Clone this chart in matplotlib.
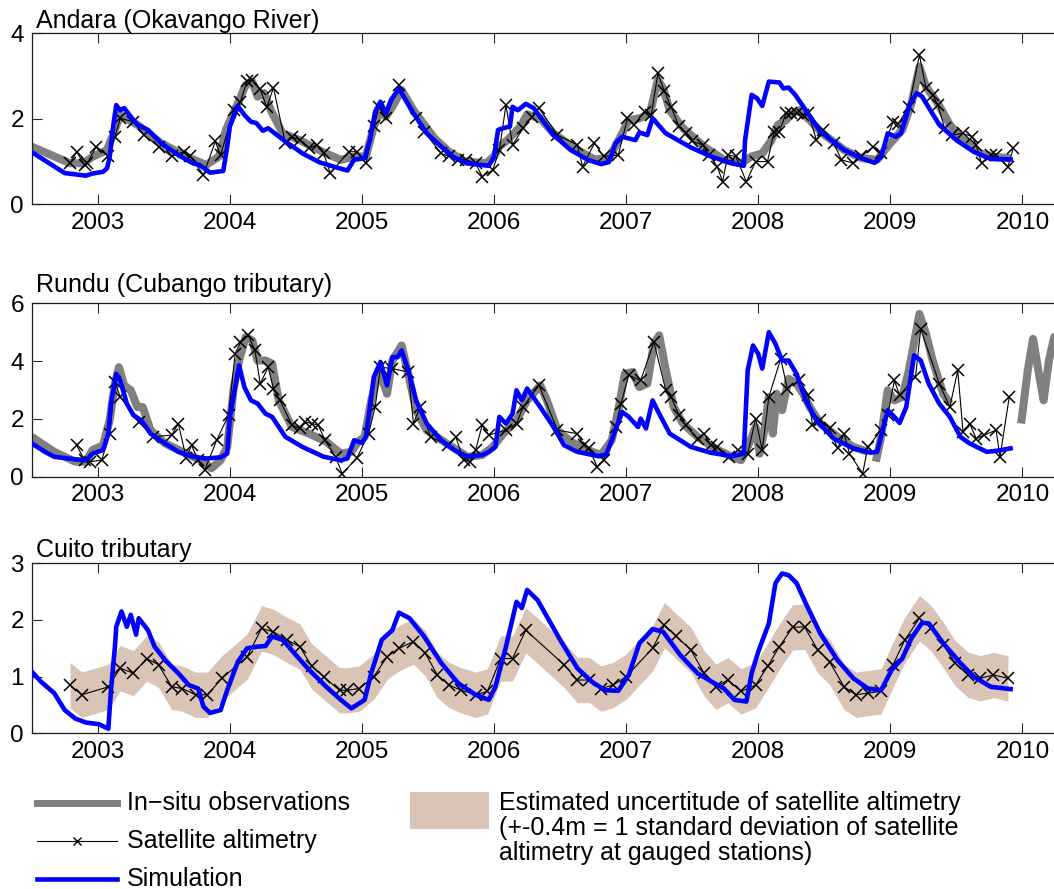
import numpy as np
import matplotlib
matplotlib.use("Agg")
import matplotlib.pyplot as plt
from matplotlib.lines import Line2D
from matplotlib.patches import Rectangle

plt.rcParams['font.family'] = ['Liberation Sans', 'DejaVu Sans']

nan = np.nan

# ---------------- data (decimal years, water level anomalies in m) ----------------
years = [2003, 2004, 2005, 2006, 2007, 2008, 2009, 2010]
titles = ["Andara (Okavango River)", "Rundu (Cubango tributary)", "Cuito tributary"]
yticks = [[0, 2, 4], [0, 2, 4, 6], [0, 1, 2, 3]]
ylims = [(0, 4), (0, 6), (0, 3)]
UNCERTAINTY = 0.4  # +-0.4 m (1 std of satellite altimetry at gauged stations)

# --- Andara ---
andara_insitu_t = [2002.50, 2002.79, 2002.89, 2002.96, 2003.07, 2003.12, 2003.17, 2003.30, 2003.48, 2003.67,
                   2003.82, 2003.92, 2003.97, 2004.06, 2004.12, 2004.17, 2004.21, 2004.26, 2004.31, 2004.40,
                   2004.53, 2004.70, 2004.84, 2004.95, 2005.03, 2005.09, 2005.14, 2005.18, 2005.23, 2005.30,
                   2005.39, 2005.55, 2005.66, 2005.78, 2005.94, 2006.00, 2006.04, 2006.10, 2006.20, 2006.25,
                   2006.35, 2006.45, 2006.61, 2006.76, 2006.87, 2006.97, 2007.02, 2007.10, 2007.18, 2007.24,
                   2007.28, 2007.33, 2007.43, 2007.59, 2007.74, 2007.87, 2007.95, 2008.03, 2008.10, 2008.15,
                   2008.21, 2008.26, 2008.31, 2008.39, 2008.47, 2008.65, 2008.78, 2008.90, 2009.00, 2009.09,
                   2009.16, 2009.22, 2009.27, 2009.36, 2009.45, 2009.55, 2009.68, 2009.81, 2009.91]
andara_insitu_v = [1.35, 0.96, 0.96, 1.11, 1.27, 1.66, 2.09, 1.86, 1.43, 1.12,
                   0.92, 1.12, 1.74, 2.36, 2.79, 2.87, 2.52, 2.60, 2.20, 1.66,
                   1.50, 1.23, 1.04, 1.12, 1.12, 1.82, 2.20, 2.05, 2.28, 2.67,
                   2.20, 1.54, 1.23, 1.00, 0.96, 1.12, 1.35, 1.50, 1.82, 2.10,
                   2.01, 1.66, 1.31, 1.05, 1.08, 1.66, 1.97, 2.01, 2.13, 2.91,
                   2.71, 2.20, 1.78, 1.35, 1.04, 0.96, 1.12, 1.19, 1.50, 1.86,
                   1.97, 2.13, 2.20, 1.97, 1.70, 1.27, 1.08, 1.04, 1.43, 1.74,
                   2.36, 3.22, 2.75, 2.36, 1.86, 1.50, 1.19, 1.10, 1.08]

andara_sat_t = [2002.79, 2002.84, 2002.90, 2002.92, 2002.99, 2003.08, 2003.13, 2003.17, 2003.27, 2003.35,
                2003.46, 2003.56, 2003.65, 2003.70, 2003.80, 2003.89, 2003.93, 2004.03, 2004.08, 2004.13,
                2004.17, 2004.23, 2004.28, 2004.33, 2004.42, 2004.47, 2004.53, 2004.60, 2004.66, 2004.71,
                2004.76, 2004.90, 2004.96, 2005.03, 2005.09, 2005.13, 2005.18, 2005.28, 2005.41, 2005.47,
                2005.60, 2005.66, 2005.73, 2005.79, 2005.86, 2005.91, 2005.99, 2006.04, 2006.09, 2006.14,
                2006.22, 2006.29, 2006.34, 2006.48, 2006.63, 2006.67, 2006.76, 2006.83, 2006.94, 2007.01,
                2007.06, 2007.14, 2007.19, 2007.24, 2007.29, 2007.34, 2007.40, 2007.45, 2007.50, 2007.58,
                2007.63, 2007.69, 2007.73, 2007.77, 2007.83, 2007.91, 2007.98, 2008.07, 2008.12, 2008.16,
                2008.21, 2008.25, 2008.29, 2008.34, 2008.38, 2008.44, 2008.49, 2008.57, 2008.63, 2008.72,
                2008.78, 2008.87, 2008.93, 2009.02, 2009.06, 2009.14, 2009.22, 2009.27, 2009.32, 2009.36,
                2009.41, 2009.47, 2009.55, 2009.62, 2009.65, 2009.69, 2009.76, 2009.80, 2009.89, 2009.93]
andara_sat_v = [0.96, 1.23, 0.92, 0.96, 1.35, 1.12, 1.58, 2.01, 1.93, 1.62,
                1.35, 1.12, 1.23, 1.12, 0.69, 1.47, 1.15, 2.21, 2.40, 2.88,
                2.91, 2.69, 2.27, 2.73, 1.43, 1.58, 1.50, 1.31, 1.39, 1.19,
                0.73, 1.23, 1.23, 0.96, 1.82, 2.28, 2.01, 2.79, 2.01, 1.70,
                1.19, 1.12, 1.04, 1.04, 0.96, 0.65, 0.80, 1.27, 2.32, 1.39,
                1.78, 2.05, 2.25, 1.62, 1.39, 0.88, 1.43, 1.12, 1.15, 2.01,
                1.86, 2.17, 2.09, 3.06, 2.64, 2.28, 1.82, 1.66, 1.47, 1.39,
                1.15, 0.88, 0.53, 1.15, 1.12, 0.53, 1.00, 1.00, 1.70, 1.70,
                2.13, 2.13, 2.13, 2.09, 2.13, 1.50, 1.74, 1.43, 1.04, 0.96,
                1.12, 1.35, 1.19, 1.93, 1.89, 2.28, 3.49, 2.71, 2.56, 2.32,
                1.78, 1.62, 1.66, 1.58, 1.39, 0.96, 1.15, 1.15, 0.88, 1.31]

andara_sim_t = [2002.50, 2002.75, 2002.91, 2002.96, 2003.04, 2003.07, 2003.09, 2003.12, 2003.14, 2003.17,
                2003.20, 2003.25, 2003.30, 2003.38, 2003.48, 2003.61, 2003.72, 2003.77, 2003.85, 2003.95,
                2003.98, 2004.00, 2004.06, 2004.11, 2004.16, 2004.20, 2004.25, 2004.29, 2004.42, 2004.55,
                2004.68, 2004.81, 2004.89, 2004.94, 2005.02, 2005.06, 2005.10, 2005.14, 2005.18, 2005.22,
                2005.28, 2005.39, 2005.49, 2005.60, 2005.70, 2005.80, 2005.96, 2006.00, 2006.03, 2006.07,
                2006.12, 2006.14, 2006.18, 2006.24, 2006.30, 2006.45, 2006.58, 2006.71, 2006.81, 2006.87,
                2006.92, 2006.97, 2007.07, 2007.10, 2007.16, 2007.20, 2007.30, 2007.49, 2007.64, 2007.80,
                2007.89, 2007.90, 2007.95, 2007.99, 2008.03, 2008.08, 2008.16, 2008.19, 2008.23, 2008.28,
                2008.36, 2008.47, 2008.65, 2008.78, 2008.88, 2008.93, 2008.98, 2009.04, 2009.08, 2009.15,
                2009.20, 2009.24, 2009.37, 2009.50, 2009.63, 2009.76, 2009.91]
andara_sim_v = [1.22, 0.73, 0.67, 0.72, 0.76, 0.84, 1.10, 1.90, 2.32, 2.20,
                2.25, 2.05, 1.86, 1.74, 1.43, 1.15, 0.96, 0.92, 0.74, 0.78,
                1.35, 1.82, 2.30, 2.09, 1.93, 1.90, 1.72, 1.78, 1.47, 1.19,
                0.98, 0.86, 0.79, 1.04, 1.08, 1.50, 2.17, 2.40, 2.13, 2.44,
                2.71, 2.13, 1.66, 1.35, 1.09, 0.96, 0.90, 1.11, 1.74, 1.78,
                1.82, 2.28, 2.20, 2.35, 2.25, 1.62, 1.27, 1.04, 0.94, 0.99,
                1.43, 1.58, 1.50, 1.68, 1.62, 2.01, 1.66, 1.33, 1.12, 0.96,
                0.90, 1.50, 2.56, 2.48, 2.30, 2.87, 2.85, 2.71, 2.73, 2.56,
                2.20, 1.70, 1.27, 1.08, 0.97, 1.11, 1.66, 1.58, 1.66, 2.36,
                2.60, 2.52, 1.86, 1.50, 1.23, 1.06, 1.05]

# --- Rundu ---
rundu_insitu_t = [2002.50, 2002.67, 2002.83, 2002.91, 2002.96, 2003.04, 2003.09, 2003.13, 2003.16, 2003.20,
                  2003.25, 2003.30, 2003.34, 2003.40, 2003.51, 2003.67, 2003.80, 2003.86, 2003.93, 2003.98,
                  2004.03, 2004.07, 2004.12, 2004.17, 2004.21, 2004.27, 2004.32, 2004.37, 2004.47, 2004.60,
                  2004.73, 2004.84, 2004.92, 2004.97, 2005.02, 2005.07, 2005.13, 2005.19, 2005.23, 2005.30,
                  2005.35, 2005.41, 2005.49, 2005.64, 2005.80, 2005.91, 2005.99, 2006.07, 2006.17, 2006.25,
                  2006.35, 2006.40, 2006.48, 2006.58, 2006.71, 2006.81, 2006.89, 2006.94, 2006.99, 2007.05,
                  2007.10, 2007.16, 2007.21, 2007.25, 2007.30, 2007.36, 2007.43, 2007.54, 2007.67, 2007.80,
                  2007.87, 2007.92, 2007.98, 2008.01, 2008.05, 2008.08, 2008.11, 2008.14, 2008.18, 2008.23,
                  2008.29, 2008.34, 2008.39, 2008.47, 2008.60, 2008.72, 2008.83, 2008.86, 2008.89, 2008.93,
                  2008.98, 2009.03, 2009.09, 2009.14, 2009.22, 2009.27, 2009.32, 2009.40, 2009.45, 2009.70,
                  2009.99, 2010.04, 2010.08, 2010.12, 2010.16, 2010.20, 2010.24, 2010.27]
rundu_insitu_v = [1.38, 0.86, 0.52, 0.52, 0.92, 1.09, 1.95, 3.22, 3.79, 3.16,
                  2.99, 2.41, 2.41, 1.61, 1.15, 0.80, 0.52, 0.29, 0.57, 1.03,
                  3.10, 4.02, 4.83, 4.71, 4.02, 4.02, 3.91, 2.64, 1.72, 1.49,
                  1.21, 0.80, 0.86, 1.21, 1.38, 2.64, 3.68, 2.87, 4.02, 4.54,
                  3.56, 2.30, 1.61, 1.15, 0.69, 0.75, 1.03, 1.49, 1.95, 2.64,
                  3.16, 2.64, 1.61, 1.21, 0.92, 0.75, 1.26, 2.30, 3.56, 3.62,
                  3.10, 3.22, 4.60, 4.89, 3.68, 2.41, 1.84, 1.38, 0.98, 0.69,
                  0.57, 1.03, 1.72, 0.80, 1.72, 2.76, 1.49, 2.87, 2.30, 3.39,
                  3.22, 2.87, 2.41, 1.84, 1.38, 1.03, 0.86, nan, 0.52, 1.38,
                  2.99, 2.64, 2.76, 3.68, 5.63, 4.94, 4.02, 2.87, 2.53, nan,
                  1.84, 3.68, 4.77, 3.68, 2.64, 4.02, 4.83, 4.80]

rundu_sat_t = [2002.84, 2002.90, 2002.94, 2003.03, 2003.09, 2003.13, 2003.17, 2003.31, 2003.42, 2003.56,
               2003.61, 2003.67, 2003.71, 2003.76, 2003.81, 2003.90, 2003.99, 2004.04, 2004.08, 2004.14,
               2004.19, 2004.23, 2004.29, 2004.33, 2004.38, 2004.47, 2004.53, 2004.57, 2004.62, 2004.67,
               2004.72, 2004.80, 2004.85, 2004.96, 2005.05, 2005.10, 2005.14, 2005.23, 2005.35, 2005.39,
               2005.44, 2005.52, 2005.65, 2005.71, 2005.77, 2005.82, 2005.86, 2005.91, 2005.96, 2006.09,
               2006.17, 2006.22, 2006.34, 2006.48, 2006.63, 2006.68, 2006.72, 2006.78, 2006.83, 2006.92,
               2006.96, 2007.02, 2007.11, 2007.21, 2007.30, 2007.34, 2007.40, 2007.45, 2007.54, 2007.59,
               2007.64, 2007.69, 2007.78, 2007.85, 2007.92, 2007.98, 2008.03, 2008.08, 2008.17, 2008.22,
               2008.31, 2008.38, 2008.41, 2008.47, 2008.54, 2008.60, 2008.65, 2008.69, 2008.79, 2008.83,
               2008.93, 2008.98, 2009.03, 2009.07, 2009.19, 2009.23, 2009.37, 2009.45, 2009.51, 2009.55,
               2009.60, 2009.65, 2009.71, 2009.80, 2009.83, 2009.90]
rundu_sat_v = [1.09, 0.57, 0.52, 0.57, 1.49, 3.28, 2.76, 1.90, 1.38, 1.44,
               1.84, 0.63, 1.09, 0.57, 0.23, 1.26, 2.13, 4.25, 4.66, 4.89,
               4.37, 3.22, 3.79, 3.05, 2.64, 1.78, 1.67, 1.90, 1.84, 1.78,
               1.26, 0.69, 0.11, 0.63, 1.49, 2.41, 3.79, 3.74, 3.62, 1.84,
               2.41, 1.38, 1.09, 1.38, 0.57, 0.52, 0.92, 1.78, 1.44, 1.61,
               1.84, 2.41, 3.16, 1.61, 1.49, 1.09, 0.98, 0.34, 0.57, 1.72,
               2.53, 3.51, 3.33, 4.66, 2.99, 2.76, 2.13, 1.78, 1.32, 1.49,
               1.09, 1.03, 0.69, 0.92, 0.80, 2.01, 0.92, 2.76, 4.08, 3.05,
               3.33, 2.82, 1.78, 1.95, 1.67, 0.98, 1.49, 0.80, 0.11, 1.03,
               1.61, 2.13, 3.33, 2.82, 3.45, 5.11, 3.22, 2.41, 3.68, 1.55,
               1.84, 1.32, 1.44, 1.61, 0.69, 2.76]

rundu_sim_t = [2002.50, 2002.60, 2002.67, 2002.83, 2002.91, 2002.96, 2003.04, 2003.08, 2003.10, 2003.14,
               2003.17, 2003.22, 2003.27, 2003.33, 2003.40, 2003.51, 2003.61, 2003.72, 2003.82, 2003.93,
               2003.98, 2004.00, 2004.04, 2004.07, 2004.11, 2004.16, 2004.21, 2004.27, 2004.32, 2004.42,
               2004.55, 2004.71, 2004.84, 2004.89, 2004.94, 2005.00, 2005.03, 2005.09, 2005.14, 2005.19,
               2005.23, 2005.27, 2005.30, 2005.35, 2005.41, 2005.49, 2005.60, 2005.70, 2005.80, 2005.91,
               2005.96, 2006.01, 2006.04, 2006.09, 2006.14, 2006.17, 2006.21, 2006.25, 2006.35, 2006.45,
               2006.53, 2006.63, 2006.79, 2006.85, 2006.90, 2006.97, 2007.02, 2007.09, 2007.11, 2007.15,
               2007.20, 2007.25, 2007.33, 2007.49, 2007.64, 2007.80, 2007.89, 2007.92, 2007.96, 2008.00,
               2008.03, 2008.08, 2008.13, 2008.18, 2008.23, 2008.29, 2008.36, 2008.44, 2008.57, 2008.72,
               2008.85, 2008.90, 2008.98, 2009.03, 2009.07, 2009.12, 2009.18, 2009.23, 2009.29, 2009.37,
               2009.45, 2009.53, 2009.60, 2009.73, 2009.81, 2009.91]
rundu_sim_v = [1.15, 0.86, 0.69, 0.60, 0.57, 0.80, 0.92, 1.49, 2.53, 3.56,
               3.33, 2.53, 2.13, 1.95, 1.49, 1.15, 0.86, 0.69, 0.63, 0.67,
               0.80, 2.07, 3.10, 3.85, 3.10, 2.64, 2.53, 2.18, 2.07, 1.38,
               1.03, 0.69, 0.57, 0.63, 1.26, 1.17, 1.38, 3.45, 3.97, 3.16,
               4.14, 4.14, 4.37, 3.68, 2.64, 1.84, 1.26, 0.92, 0.69, 0.75,
               0.86, 1.03, 2.07, 1.84, 2.18, 2.99, 2.64, 3.05, 2.41, 1.72,
               1.09, 0.86, 0.71, 0.77, 1.38, 2.24, 2.07, 1.72, 2.01, 1.67,
               2.64, 2.18, 1.49, 1.03, 0.83, 0.71, 0.80, 3.68, 4.54, 4.25,
               3.74, 5.00, 4.60, 4.02, 4.02, 3.56, 2.64, 1.95, 1.32, 0.98,
               0.83, 0.86, 2.30, 2.07, 1.86, 2.41, 4.20, 4.02, 3.22, 2.53,
               2.07, 1.38, 1.15, 0.86, 0.90, 0.98]

# --- Cuito ---
cuito_sat_t = [2002.79, 2002.88, 2003.08, 2003.17, 2003.27, 2003.37, 2003.46, 2003.56, 2003.64, 2003.74,
               2003.83, 2003.94, 2004.13, 2004.24, 2004.33, 2004.43, 2004.53, 2004.62, 2004.71, 2004.83,
               2004.89, 2004.98, 2005.09, 2005.19, 2005.28, 2005.39, 2005.48, 2005.57, 2005.66, 2005.75,
               2005.86, 2005.95, 2006.05, 2006.14, 2006.24, 2006.53, 2006.63, 2006.72, 2006.81, 2006.90,
               2007.00, 2007.20, 2007.29, 2007.38, 2007.49, 2007.59, 2007.68, 2007.77, 2007.87, 2007.98,
               2008.07, 2008.16, 2008.26, 2008.35, 2008.45, 2008.54, 2008.65, 2008.74, 2008.83, 2008.93,
               2009.02, 2009.11, 2009.22, 2009.31, 2009.40, 2009.49, 2009.59, 2009.68, 2009.78, 2009.89]
cuito_sat_v = [0.85, 0.68, 0.82, 1.15, 1.06, 1.32, 1.21, 0.82, 0.79, 0.68,
               0.68, 0.97, 1.35, 1.85, 1.79, 1.65, 1.53, 1.18, 1.00, 0.76,
               0.76, 0.79, 1.00, 1.35, 1.50, 1.62, 1.41, 1.03, 0.85, 0.76,
               0.68, 0.74, 1.32, 1.32, 1.82, 1.21, 0.94, 0.94, 0.79, 0.85,
               1.00, 1.50, 1.91, 1.71, 1.47, 1.06, 0.82, 0.94, 0.74, 0.85,
               1.18, 1.53, 1.87, 1.88, 1.47, 1.26, 0.82, 0.68, 0.71, 0.74,
               1.21, 1.65, 2.03, 1.85, 1.56, 1.24, 1.03, 0.97, 1.03, 0.97]

cuito_sim_t = [2002.50, 2002.57, 2002.67, 2002.75, 2002.83, 2002.91, 2003.01, 2003.08, 2003.10, 2003.13,
               2003.14, 2003.18, 2003.22, 2003.25, 2003.29, 2003.31, 2003.38, 2003.43, 2003.51, 2003.61,
               2003.69, 2003.76, 2003.80, 2003.85, 2003.93, 2003.98, 2004.06, 2004.13, 2004.21, 2004.27,
               2004.32, 2004.40, 2004.50, 2004.60, 2004.73, 2004.84, 2004.92, 2005.02, 2005.07, 2005.15,
               2005.23, 2005.28, 2005.36, 2005.47, 2005.60, 2005.73, 2005.86, 2005.96, 2006.01, 2006.09,
               2006.17, 2006.21, 2006.25, 2006.33, 2006.40, 2006.50, 2006.63, 2006.74, 2006.84, 2006.94,
               2007.02, 2007.10, 2007.15, 2007.20, 2007.28, 2007.41, 2007.54, 2007.67, 2007.74, 2007.82,
               2007.91, 2007.95, 2008.00, 2008.08, 2008.13, 2008.18, 2008.23, 2008.29, 2008.36, 2008.47,
               2008.60, 2008.72, 2008.83, 2008.93, 2009.01, 2009.09, 2009.16, 2009.24, 2009.29, 2009.40,
               2009.53, 2009.63, 2009.76, 2009.91]
cuito_sim_v = [1.09, 0.91, 0.71, 0.41, 0.26, 0.19, 0.16, 0.08, 0.76, 1.53,
               1.88, 2.15, 1.88, 2.09, 1.74, 2.03, 1.82, 1.53, 1.29, 1.06,
               0.85, 0.79, 0.47, 0.36, 0.41, 0.76, 1.26, 1.50, 1.53, 1.54,
               1.71, 1.65, 1.38, 1.12, 0.82, 0.59, 0.44, 0.59, 1.06, 1.65,
               1.82, 2.13, 2.03, 1.71, 1.24, 0.88, 0.68, 0.59, 0.82, 1.53,
               2.32, 2.21, 2.53, 2.35, 2.06, 1.65, 1.15, 0.91, 0.76, 0.75,
               1.03, 1.59, 1.71, 1.84, 1.79, 1.38, 1.06, 0.88, 0.79, 0.59,
               0.56, 1.06, 1.44, 1.94, 2.65, 2.82, 2.79, 2.65, 2.29, 1.76,
               1.29, 0.97, 0.79, 0.76, 1.12, 1.32, 1.68, 1.95, 1.94, 1.59,
               1.24, 1.00, 0.82, 0.78]

# ---------------- styling ----------------
W, H = 1054, 889
GRAY = '#808080'
BLUE = '#0000ff'
TAN = '#d9c4b6'
FS = 17.5

fig = plt.figure(figsize=(W / 100, H / 100), dpi=100)

def box(top, bottom, left=31.7, right=1055.5):
    return [left / W, 1 - bottom / H, (right - left) / W, (bottom - top) / H]

panel_px = [(33.3, 204.3), (303.3, 476.7), (563.3, 733.3)]
title_baseline = [28.3, 291.8, 556.7]

series = [
    dict(insitu=(andara_insitu_t, andara_insitu_v), sat=(andara_sat_t, andara_sat_v),
         sim=(andara_sim_t, andara_sim_v), band=False),
    dict(insitu=(rundu_insitu_t, rundu_insitu_v), sat=(rundu_sat_t, rundu_sat_v),
         sim=(rundu_sim_t, rundu_sim_v), band=False),
    dict(insitu=None, sat=(cuito_sat_t, cuito_sat_v),
         sim=(cuito_sim_t, cuito_sim_v), band=True),
]

for i, (top, bot) in enumerate(panel_px):
    ax = fig.add_axes(box(top, bot))
    s = series[i]
    if s['band']:
        st = np.array(s['sat'][0]); sv = np.array(s['sat'][1])
        ax.fill_between(st, sv - UNCERTAINTY, sv + UNCERTAINTY, color=TAN, lw=0, zorder=1)
    if s['insitu'] is not None:
        ax.plot(s['insitu'][0], s['insitu'][1], color=GRAY, lw=5.8,
                solid_joinstyle='round', solid_capstyle='butt', zorder=2)
    ax.plot(s['sat'][0], s['sat'][1], color='black', lw=0.8, marker='x', ms=8.5,
            mew=1.1, zorder=3)
    ax.plot(s['sim'][0], s['sim'][1], color=BLUE, lw=3.3,
            solid_joinstyle='round', zorder=4)

    ax.set_xlim(2002.5, 2010.25)
    ax.set_ylim(*ylims[i])
    ax.set_xticks(years)
    ax.set_xticklabels([str(y) for y in years])
    ax.set_yticks(yticks[i])
    ax.tick_params(direction='in', length=7, width=0.8, top=True, right=False,
                   labelsize=FS, colors='#262626', labelcolor='black')
    ax.tick_params(axis='x', pad=5.5)
    ax.tick_params(axis='y', pad=5.5)
    for sp in ax.spines.values():
        sp.set_linewidth(0.9)
        sp.set_color('#1a1a1a')
    fig.text(36 / W, 1 - title_baseline[i] / H, titles[i], fontsize=18,
             ha='left', va='baseline')

# ---------------- legend ----------------
LFS = 18
def fx(px):
    return px / W
def fy(py):
    return 1 - py / H

rows = [803, 841, 879]
fig.add_artist(Line2D([fx(37), fx(117)], [fy(rows[0])] * 2, color=GRAY, lw=5.0))
fig.add_artist(Line2D([fx(37), fx(117)], [fy(rows[1])] * 2, color='black', lw=0.8))
fig.add_artist(Line2D([fx(77)], [fy(rows[1])], color='black', marker='x', ms=6, mew=1.0, lw=0))
fig.add_artist(Line2D([fx(37), fx(117)], [fy(rows[2])] * 2, color=BLUE, lw=3.3))
for r, lab in zip(rows, ["In\u2212situ observations", "Satellite altimetry", "Simulation"]):
    fig.text(fx(127), fy(r), lab, fontsize=LFS, ha='left', va='center')

fig.add_artist(Rectangle((fx(410), fy(829)), (489 - 410) / W, (829 - 792) / H,
                         transform=fig.transFigure, facecolor=TAN, edgecolor='none'))
band_lines = ["Estimated uncertitude of satellite altimetry",
              "(+-0.4m = 1 standard deviation of satellite",
              "altimetry at gauged stations)"]
for r, lab in zip([803, 828, 853], band_lines):
    fig.text(fx(499), fy(r), lab, fontsize=LFS, ha='left', va='center')

fig.savefig("out.png", dpi=100)
